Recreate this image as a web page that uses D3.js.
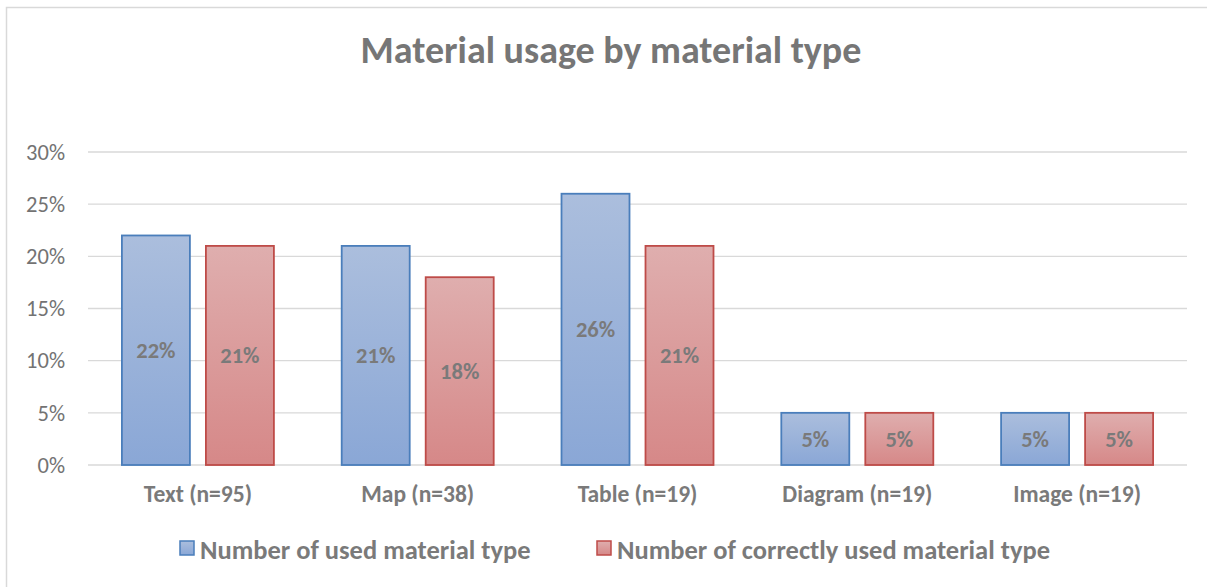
<!DOCTYPE html>
<html>
<head>
<meta charset="utf-8">
<script src="https://cdn.jsdelivr.net/npm/d3@7"></script>
<style>
  body { margin: 0; background: #fff; }
  svg { font-family: Carlito, Calibri, Lato, "Open Sans", sans-serif; }
</style>
</head>
<body>
<div class="card"></div>
<script>
var categories = ["Text (n=95)", "Map (n=38)", "Table (n=19)", "Diagram (n=19)", "Image (n=19)"];
var seriesNames = ["Number of used material type", "Number of correctly used material type"];
var usedValues = [22, 21, 26, 5, 5];
var correctValues = [21, 18, 21, 5, 5];
var yTicks = [0, 5, 10, 15, 20, 25, 30];

var svgWidth = 1207, svgHeight = 587;
var margin = { top: 152, right: 20, bottom: 122, left: 88 };
var width = svgWidth - margin.left - margin.right;
var height = svgHeight - margin.top - margin.bottom;

var svg = d3.select('.card').append('svg')
    .attr("width", svgWidth)
    .attr("height", svgHeight);

// gradients for bar fills
var defs = svg.append("defs");
var fills = [["#abbedd", "#8aa7d6"], ["#dfaeae", "#d68888"]];
var strokes = ["#4a7ebb", "#be4b48"];
fills.forEach(function (f, i) {
    var g = defs.append("linearGradient")
        .attr("id", "grad" + i)
        .attr("x1", 0).attr("y1", 0).attr("x2", 0).attr("y2", 1);
    g.append("stop").attr("offset", "0%").attr("stop-color", f[0]);
    g.append("stop").attr("offset", "100%").attr("stop-color", f[1]);
});

// chart border (right and bottom edges fall outside the picture)
svg.append("rect")
    .attr("x", 6.5).attr("y", 7.5)
    .attr("width", 1210).attr("height", 590)
    .attr("fill", "none")
    .attr("stroke", "#d9d9d9")
    .attr("stroke-width", 1.5);

// title
svg.append("text")
    .attr("x", 611)
    .attr("y", 63)
    .attr("text-anchor", "middle")
    .attr("font-size", 38)
    .attr("font-weight", "bold")
    .attr("fill", "#767676")
    .text("Material usage by material type");

var g = svg.append("g")
    .attr("transform", `translate(${margin.left}, ${margin.top})`);

var x = d3.scaleBand().domain(categories).range([0, width]);
var y = d3.scaleLinear().domain([0, 30]).range([height, 0]);
var barWidth = 68, barGap = 16;

// gridlines
g.selectAll(".grid")
    .data(yTicks)
    .enter().append("line")
    .attr("x1", 0).attr("x2", width)
    .attr("y1", (d) => y(d)).attr("y2", (d) => y(d))
    .attr("stroke", "#d9d9d9")
    .attr("stroke-width", 1.3);

// y axis
var yAxis = g.append("g")
    .call(d3.axisLeft(y).tickValues(yTicks).tickFormat((d) => d + "%").tickSize(0).tickPadding(23));
yAxis.select(".domain").remove();
yAxis.selectAll("text")
    .attr("font-size", 22.5)
    .attr("font-family", "Carlito, Calibri, Lato, sans-serif")
    .attr("fill", "#737373");

// x axis
var xAxis = g.append("g")
    .attr("transform", `translate(0, ${height})`)
    .call(d3.axisBottom(x).tickSize(0).tickPadding(20));
xAxis.select(".domain").remove();
xAxis.selectAll("text")
    .attr("font-size", 23.5)
    .attr("font-weight", "bold")
    .attr("font-family", "Carlito, Calibri, Lato, sans-serif")
    .attr("fill", "#7a7a7a");

// bars
var series = [usedValues, correctValues];
series.forEach(function (vals, si) {
    var xOff = function (c) {
        var center = x(c) + x.bandwidth() / 2;
        return si === 0 ? center - barGap / 2 - barWidth : center + barGap / 2;
    };
    g.selectAll(".bar" + si)
        .data(categories)
        .enter().append("rect")
        .attr("x", (c) => xOff(c))
        .attr("y", (c, i) => y(vals[i]))
        .attr("width", barWidth)
        .attr("height", (c, i) => height - y(vals[i]))
        .attr("fill", "url(#grad" + si + ")")
        .attr("stroke", strokes[si])
        .attr("stroke-width", 1.8);

    g.selectAll(".label" + si)
        .data(categories)
        .enter().append("text")
        .attr("x", (c) => xOff(c) + barWidth / 2)
        .attr("y", (c, i) => (y(vals[i]) + height) / 2)
        .attr("dy", "0.35em")
        .attr("text-anchor", "middle")
        .attr("font-size", 22.5)
        .attr("font-weight", "bold")
        .attr("fill", "#7a7a7a")
        .text((c, i) => vals[i] + "%");
});

// legend
var legendX = [180, 597];
seriesNames.forEach(function (name, i) {
    svg.append("rect")
        .attr("x", legendX[i]).attr("y", 541)
        .attr("width", 14).attr("height", 14)
        .attr("fill", "url(#grad" + i + ")")
        .attr("stroke", strokes[i])
        .attr("stroke-width", 1.5);
    svg.append("text")
        .attr("x", legendX[i] + 20)
        .attr("y", 550)
        .attr("dy", "0.35em")
        .attr("font-size", 26.5)
        .attr("font-weight", "bold")
        .attr("fill", "#7a7a7a")
        .text(name);
});
</script>
</body>
</html>
